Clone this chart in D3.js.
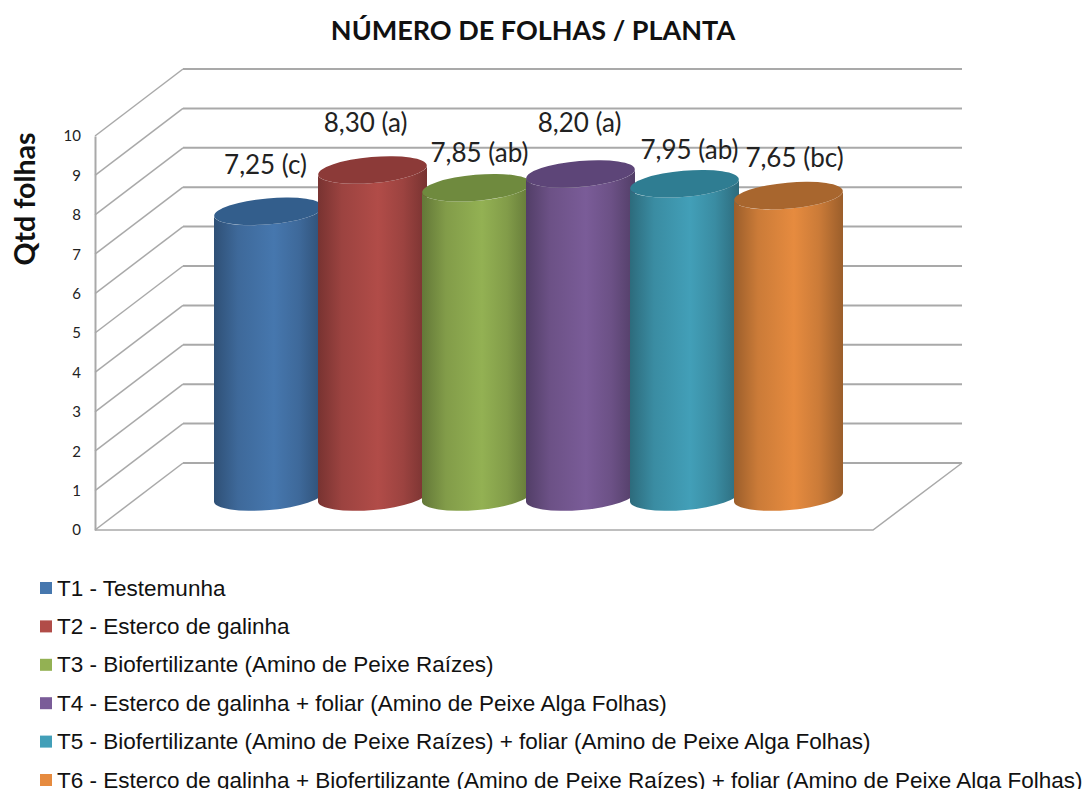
<!DOCTYPE html>
<html>
<head>
<meta charset="utf-8">
<script src="https://d3js.org/d3.v7.min.js"></script>
<style>
  html, body { margin: 0; background: #fff; }
  svg { display: block; }
</style>
</head>
<body>
<script>
// Data
var categories = ["T1", "T2", "T3", "T4", "T5", "T6"];
var values = [7.25, 8.30, 7.85, 8.20, 7.95, 7.65];
var valueLabels = ["7,25 (c)", "8,30 (a)", "7,85 (ab)", "8,20 (a)", "7,95 (ab)", "7,65 (bc)"];
var legendLabels = [
    "T1 - Testemunha",
    "T2 - Esterco de galinha",
    "T3 - Biofertilizante (Amino de Peixe Raízes)",
    "T4 - Esterco de galinha + foliar (Amino de Peixe Alga Folhas)",
    "T5 - Biofertilizante (Amino de Peixe Raízes) + foliar (Amino de Peixe Alga Folhas)",
    "T6 - Esterco de galinha + Biofertilizante (Amino de Peixe Raízes) + foliar (Amino de Peixe Alga Folhas)"
];
var tickValues = [0, 1, 2, 3, 4, 5, 6, 7, 8, 9, 10];
var colors = ["#4677ae", "#b14c48", "#93b153", "#7a5c98", "#429fb8", "#e68b3f"];
var topColors = ["#335e8c", "#8c3a38", "#6f8a3e", "#5d4578", "#2f7d92", "#a8662e"];

var w = 1085;
var h = 789;

var svg = d3.select("body").append("svg")
    .attr("width", w)
    .attr("height", h);

// Front edge and back wall of the 3D box
var yFront = d3.scaleLinear().domain([0, 10]).range([530, 136]);
var yBack = d3.scaleLinear().domain([0, 10]).range([463, 69]);
var yBar = d3.scaleLinear().domain([0, 10]).range([497, 103]);
var xBar = d3.scaleBand().domain(categories).range([214, 838]).padding(0);

var frontLeft = 95, backLeft = 183, backRight = 962, frontRight = 873;
var gridColor = "#a9a9a9";

// Back wall lines
svg.append("g").selectAll("line")
    .data(tickValues)
    .enter()
    .append("line")
    .attr("x1", backLeft)
    .attr("x2", backRight)
    .attr("y1", function(d) { return yBack(d); })
    .attr("y2", function(d) { return yBack(d); })
    .attr("stroke", gridColor)
    .attr("stroke-width", 2);

// Side wall diagonals
svg.append("g").selectAll("line")
    .data(tickValues)
    .enter()
    .append("line")
    .attr("x1", frontLeft)
    .attr("x2", backLeft)
    .attr("y1", function(d) { return yFront(d); })
    .attr("y2", function(d) { return yBack(d); })
    .attr("stroke", gridColor)
    .attr("stroke-width", 1.5);

// Floor edges
svg.append("path")
    .attr("d", d3.line()([
        [frontLeft, yFront(0)], [frontRight, yFront(0)], [backRight, yBack(0)]
    ]))
    .attr("fill", "none")
    .attr("stroke", gridColor)
    .attr("stroke-width", 1.5);

// Value axis, drawn along the front left edge
var yAxis = d3.axisLeft(yFront)
    .tickValues(tickValues)
    .tickSize(0)
    .tickPadding(14)
    .tickFormat(d3.format("d"));

var axisG = svg.append("g")
    .attr("transform", "translate(" + frontLeft + ",0)")
    .call(yAxis);

axisG.select(".domain")
    .attr("stroke", gridColor)
    .attr("stroke-width", 2);

axisG.selectAll("text")
    .attr("font-family", "Lato, 'Open Sans', sans-serif")
    .attr("font-size", 15)
    .attr("fill", "#222");

// Cylinder shading, dark edges with a light band just right of the middle
var defs = svg.append("defs");
colors.forEach(function(c, i) {
    var grad = defs.append("linearGradient")
        .attr("id", "cyl" + i)
        .attr("x1", "0%").attr("x2", "100%")
        .attr("y1", "0%").attr("y2", "0%");
    var edge = d3.color(c).darker(1.1).formatHex();
    var mid = d3.color(c).darker(0.35).formatHex();
    grad.append("stop").attr("offset", "0%").attr("stop-color", edge);
    grad.append("stop").attr("offset", "22%").attr("stop-color", mid);
    grad.append("stop").attr("offset", "55%").attr("stop-color", c);
    grad.append("stop").attr("offset", "78%").attr("stop-color", mid);
    grad.append("stop").attr("offset", "100%").attr("stop-color", edge);
});

var bw = xBar.bandwidth() + 5; // cylinders overlap a little
var rx = bw / 2;
var ry = 13;
var tilt = -5; // the ellipses lean up to the right
var lean = Math.sin(tilt * Math.PI / 180) * rx;

function bodyPath(d, i) {
    var cx = xBar(categories[i]) + bw / 2;
    var top = yBar(d);
    var bottom = yBar(0);
    return "M" + (cx - rx) + "," + (top - lean) +
        "L" + (cx - rx) + "," + (bottom - lean) +
        "A" + rx + "," + ry + " " + tilt + " 0 0 " + (cx + rx) + "," + (bottom + lean) +
        "L" + (cx + rx) + "," + (top + lean) +
        "A" + rx + "," + ry + " " + tilt + " 0 1 " + (cx - rx) + "," + (top - lean) + "Z";
}

var bars = svg.append("g").selectAll("g")
    .data(values)
    .enter()
    .append("g");

bars.append("path")
    .attr("d", bodyPath)
    .attr("fill", function(d, i) { return "url(#cyl" + i + ")"; });

bars.append("ellipse")
    .attr("cx", function(d, i) { return xBar(categories[i]) + bw / 2; })
    .attr("cy", function(d) { return yBar(d); })
    .attr("rx", rx)
    .attr("ry", ry)
    .attr("transform", function(d, i) {
        return "rotate(" + tilt + " " + (xBar(categories[i]) + bw / 2) + " " + yBar(d) + ")";
    })
    .attr("fill", function(d, i) { return topColors[i]; });

// Hand placed data labels in the original, so these are nudged from the bar top
var labelDx = [-3, -7, 3, -1, 5, 6];
var labelDy = [-37, -38, -26, -42, -25, -29];

svg.append("g").selectAll("text")
    .data(values)
    .enter()
    .append("text")
    .text(function(d, i) { return valueLabels[i]; })
    .attr("x", function(d, i) { return xBar(categories[i]) + bw / 2 + labelDx[i]; })
    .attr("y", function(d, i) { return yBar(d) + labelDy[i]; })
    .attr("text-anchor", "middle")
    .attr("font-family", "Lato, 'Open Sans', sans-serif")
    .attr("font-size", 26)
    .attr("fill", "#222");

// Titles
svg.append("text")
    .text("NÚMERO DE FOLHAS / PLANTA")
    .attr("x", 533)
    .attr("y", 40)
    .attr("text-anchor", "middle")
    .attr("font-family", "Lato, 'Open Sans', sans-serif")
    .attr("font-weight", "bold")
    .attr("font-size", 27)
    .attr("fill", "#111");

svg.append("text")
    .text("Qtd folhas")
    .attr("transform", "translate(35,199) rotate(-90)")
    .attr("text-anchor", "middle")
    .attr("font-family", "Lato, 'Open Sans', sans-serif")
    .attr("font-weight", "bold")
    .attr("font-size", 28.5)
    .attr("fill", "#111");

// Legend
var yLegend = d3.scalePoint().domain(categories).range([588, 780]);

var legend = svg.append("g").selectAll("g")
    .data(legendLabels)
    .enter()
    .append("g")
    .attr("transform", function(d, i) {
        return "translate(0," + yLegend(categories[i]) + ")";
    });

legend.append("rect")
    .attr("x", 40)
    .attr("y", -6)
    .attr("width", 12)
    .attr("height", 12)
    .attr("fill", function(d, i) { return colors[i]; });

legend.append("text")
    .text(function(d) { return d; })
    .attr("x", 57)
    .attr("y", 7.5)
    .attr("font-family", "'Liberation Sans', Arial, sans-serif")
    .attr("font-size", 22.5)
    .attr("fill", "#111");
</script>
</body>
</html>
